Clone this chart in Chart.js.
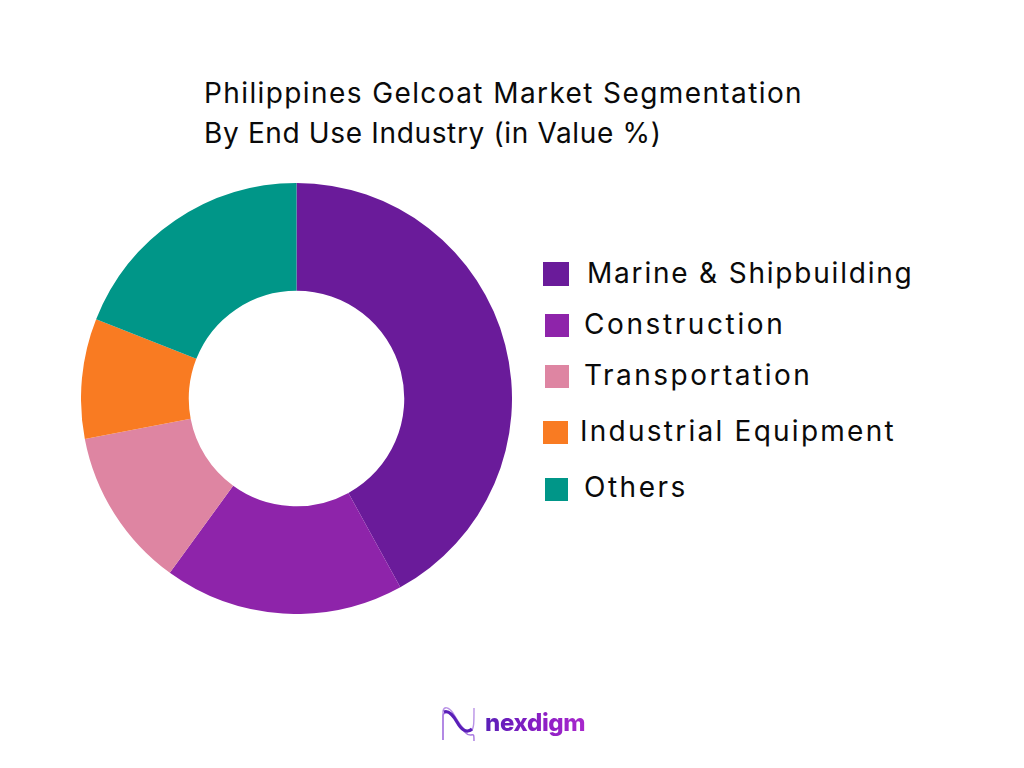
<!DOCTYPE html>
<html>
<head>
<meta charset="utf-8">
<title>Philippines Gelcoat Market Segmentation</title>
<script src="https://cdn.jsdelivr.net/npm/chart.js@4"></script>
<style>
  html, body { margin: 0; padding: 0; background: #fff; }
  body { width: 1024px; height: 768px; position: relative; overflow: hidden; font-family: Inter, "Noto Sans", sans-serif; color: #0a0a0a; }
  #chart-box { position: absolute; left: 81px; top: 183px; width: 431px; height: 431px; }
  .title { position: absolute; left: 204px; font-size: 28px; line-height: 32px; white-space: nowrap; }
  #legend div { position: absolute; font-size: 28px; line-height: 34px; white-space: nowrap; }
  #legend i { position: absolute; top: 5px; width: 24px; height: 23px; }
  #legend div:nth-child(1) { left: 587px; top: 256px; letter-spacing: 1.8px; }
  #legend div:nth-child(1) i { left: -44px; width: 26px; height: 24px; top: 6px; }
  #legend div:nth-child(2) { left: 584px; top: 307px; letter-spacing: 2.6px; }
  #legend div:nth-child(2) i { left: -39px; top: 7px; }
  #legend div:nth-child(3) { left: 584px; top: 358px; letter-spacing: 2.5px; }
  #legend div:nth-child(3) i { left: -39px; top: 7px; }
  #legend div:nth-child(4) { left: 580px; top: 414px; letter-spacing: 2.25px; }
  #legend div:nth-child(4) i { left: -37px; width: 25px; top: 7px; }
  #legend div:nth-child(5) { left: 584px; top: 470px; letter-spacing: 2.5px; }
  #legend div:nth-child(5) i { left: -39px; width: 23px; top: 8px; }
  #logo { position: absolute; left: 440px; top: 705px; }
  #logo-text { position: absolute; left: 485px; top: 707px; font-size: 24px; line-height: 32px; font-weight: 800; letter-spacing: -0.35px;
    background: linear-gradient(90deg, #5a1fb8 0%, #8a1fc4 55%, #a828cc 100%); -webkit-background-clip: text; background-clip: text; color: transparent; }
</style>
</head>
<body>
<div class="title" style="top:77px; letter-spacing:1.4px">Philippines Gelcoat Market Segmentation</div>
<div class="title" style="top:117px; letter-spacing:0.65px">By End Use Industry (in Value %)</div>
<div id="chart-box"><canvas id="pie"></canvas></div>
<div id="legend"></div>
<svg id="logo" width="40" height="38" viewBox="0 0 40 38" fill="none">
  <path d="M3 35 V6 C4 1 9 2 13 8 C18 16 24 28 31 26 C34 24 34 18 34 3" stroke="#b992e6" stroke-width="1.4"/>
  <path d="M3 35 V10 C6 4 11 8 15 13 C20 20 25 31 31 30 C34 29 34 30 34 36" stroke="#a878e0" stroke-width="1.4"/>
  <path d="M4 7 C9 5 13 10 17 17 C21 24 26 29 32 24" stroke="#5a1fb8" stroke-width="3.2"/>
</svg>
<div id="logo-text">nexdigm</div>
<script>
const categories = ["Marine & Shipbuilding", "Construction", "Transportation", "Industrial Equipment", "Others"];
const shares = [42, 18, 12, 9, 19];
const colours = ["#6A1B9A", "#8E24AA", "#DE85A2", "#F97B22", "#009688"];

const legend = document.getElementById("legend");
categories.forEach((name, i) => {
    const row = document.createElement("div");
    const box = document.createElement("i");
    box.style.background = colours[i];
    row.appendChild(box);
    row.appendChild(document.createTextNode(name));
    legend.appendChild(row);
});

new Chart(document.getElementById("pie").getContext("2d"), {
    type: "doughnut",
    data: {
        labels: categories,
        datasets: [{
            data: shares,
            backgroundColor: colours,
            hoverBackgroundColor: colours,
            borderWidth: 0,
        }],
    },
    options: {
        animation: false,
        responsive: true,
        maintainAspectRatio: false,
        cutout: "50%",
        plugins: {
            legend: { display: false },
            tooltip: { enabled: false },
        },
    },
});
</script>
</body>
</html>
